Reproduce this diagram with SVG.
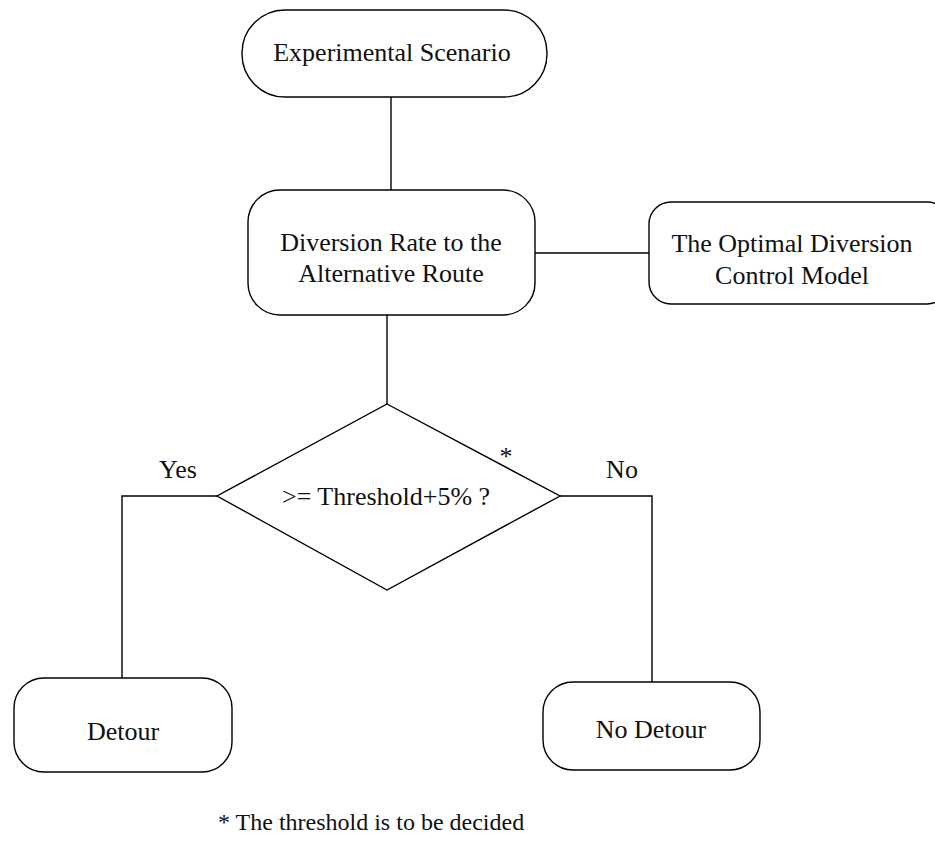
<svg xmlns="http://www.w3.org/2000/svg" width="935" height="855" viewBox="0 0 935 855">
<style>
.box{fill:#fff;stroke:#000;stroke-width:1.4}
.ln{fill:none;stroke:#000;stroke-width:1.4}
text{font-family:"Liberation Serif","Times New Roman",serif;font-size:26px;fill:#111;text-anchor:middle}
</style>
<rect width="935" height="855" fill="#fff"/>
<g id="connectors">
<path class="ln" d="M391 97 V190"/>
<path class="ln" d="M535 253 H649"/>
<path class="ln" d="M387 315 V404"/>
<path class="ln" d="M217 496 H122 V679"/>
<path class="ln" d="M560 496 H652 V682"/>
</g>
<g id="n1"><rect class="box" x="242" y="10" width="305" height="87" rx="43" ry="43"/><text x="392" y="61">Experimental Scenario</text></g>
<g id="n2"><rect class="box" x="248" y="190" width="287" height="125" rx="32" ry="32"/><text x="391" y="251">Diversion Rate to the</text><text x="391" y="282">Alternative Route</text></g>
<g id="n3"><rect class="box" x="649" y="202" width="300" height="102" rx="22" ry="22"/><text x="792" y="252">The Optimal Diversion</text><text x="792" y="284">Control Model</text></g>
<g id="n4"><polygon class="box" points="387,404 560,496 387,590 217,496"/><text x="282" y="505" style="text-anchor:start">&gt;= Threshold+5% ?</text><text x="506" y="465" font-size="15">*</text></g>
<g id="labels"><text x="178" y="478">Yes</text><text x="622" y="478">No</text></g>
<g id="n5"><rect class="box" x="14" y="678" width="218" height="94" rx="30" ry="30"/><text x="123" y="740">Detour</text></g>
<g id="n6"><rect class="box" x="543" y="682" width="217" height="88" rx="30" ry="30"/><text x="651" y="738">No Detour</text></g>
<text x="218" y="830" style="text-anchor:start;font-size:24px">* The threshold is to be decided</text>
</svg>
